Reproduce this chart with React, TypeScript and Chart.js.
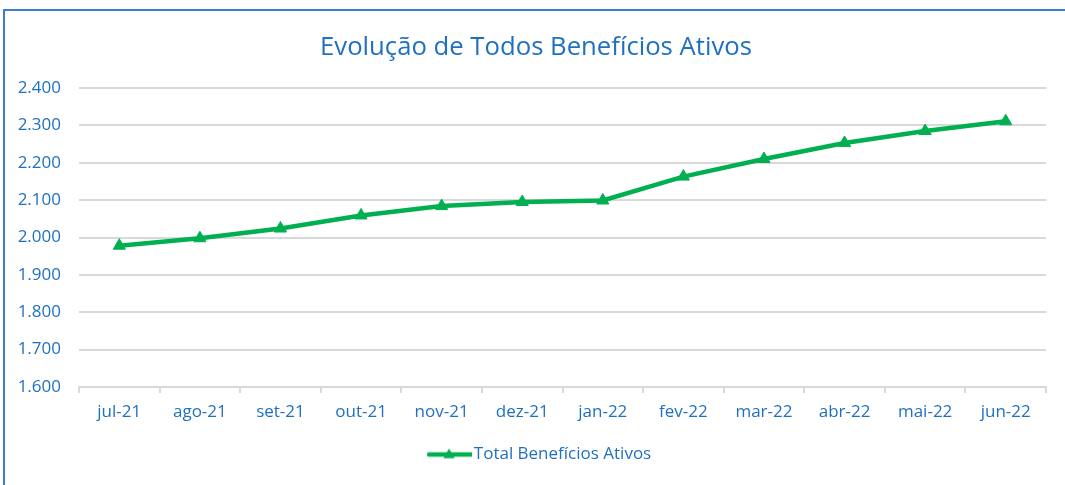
import React, { useEffect, useRef } from 'react';
import { Chart, registerables } from 'chart.js';

Chart.register(...registerables);

const categories = ['jul-21', 'ago-21', 'set-21', 'out-21', 'nov-21', 'dez-21', 'jan-22', 'fev-22', 'mar-22', 'abr-22', 'mai-22', 'jun-22'];
const totalBeneficiosAtivos = [1978, 1998, 2024, 2059, 2084, 2095, 2099, 2163, 2210, 2253, 2285, 2311];
const seriesName = 'Total Benefícios Ativos';
const chartTitle = 'Evolução de Todos Benefícios Ativos';
const yMin = 1600;
const yMax = 2400;
const yStep = 100;

const GREEN = '#00B050';
const BLUE = '#1F70C1';
const GRID = '#D9D9D9';
const FONT = "'Open Sans', sans-serif";

function makeLegendIcon(): HTMLCanvasElement {
  // image is centred on the legend box centre; visible line on the right part
  const c = document.createElement('canvas');
  c.width = 84;
  c.height = 16;
  const ctx = c.getContext('2d')!;
  ctx.strokeStyle = GREEN;
  ctx.lineWidth = 4.5;
  ctx.lineCap = 'round';
  ctx.beginPath();
  ctx.moveTo(41, 8);
  ctx.lineTo(83, 8);
  ctx.stroke();
  ctx.fillStyle = GREEN;
  const cx = 61, cy = 8.5, r = 6.5;
  ctx.beginPath();
  ctx.moveTo(cx, cy - r);
  ctx.lineTo(cx + r * 0.866, cy + r * 0.5);
  ctx.lineTo(cx - r * 0.866, cy + r * 0.5);
  ctx.closePath();
  ctx.fill();
  return c;
}

const titlePlugin = {
  id: 'offsetTitle',
  afterDraw(chart: any) {
    const ctx = chart.ctx;
    ctx.save();
    ctx.fillStyle = BLUE;
    ctx.font = `25.7px ${FONT}`;
    ctx.textAlign = 'center';
    ctx.textBaseline = 'alphabetic';
    ctx.fillText(chartTitle, 536, 54.5);
    ctx.restore();
  },
};

export default function App() {
  const ref = useRef<HTMLCanvasElement | null>(null);

  useEffect(() => {
    if (!ref.current) return;
    const icon = makeLegendIcon();
    const chart = new Chart(ref.current, {
      type: 'line',
      plugins: [titlePlugin],
      data: {
        labels: categories,
        datasets: [
          {
            label: seriesName,
            data: totalBeneficiosAtivos,
            borderColor: GREEN,
            backgroundColor: GREEN,
            borderWidth: 4.5,
            pointStyle: 'triangle',
            pointRadius: 7,
            pointBorderWidth: 1,
            pointBackgroundColor: GREEN,
            pointBorderColor: GREEN,
            tension: 0,
          },
        ],
      },
      options: {
        responsive: false,
        animation: false,
        layout: { padding: { left: 0, right: 19, top: 88, bottom: 12 } },
        plugins: {
          title: { display: false },
          legend: {
            display: true,
            position: 'bottom',
            labels: {
              usePointStyle: true,
              pointStyleWidth: 70.5,
              color: BLUE,
              font: { family: FONT, size: 17 },
              padding: 10,
              generateLabels: (ch: any) =>
                ch.data.datasets.map((ds: any, i: number) => ({
                  text: ds.label,
                  fillStyle: GREEN,
                  strokeStyle: GREEN,
                  lineWidth: 0,
                  pointStyle: icon,
                  hidden: false,
                  datasetIndex: i,
                  fontColor: BLUE,
                })),
            },
          },
          tooltip: { enabled: false },
        },
        scales: {
          x: {
            offset: true,
            afterFit: (scale: any) => {
              scale.height += 4.6;
            },
            grid: {
              display: true,
              offset: true,
              drawOnChartArea: false,
              drawTicks: true,
              tickLength: 6,
              color: GRID,
              lineWidth: 2,
            },
            border: { display: true, color: GRID, width: 2 },
            ticks: {
              color: BLUE,
              font: { family: FONT, size: 17 },
              padding: 9,
              maxRotation: 0,
            },
          },
          y: {
            min: yMin,
            max: yMax,
            afterFit: (scale: any) => {
              scale.width = 79;
            },
            grid: {
              color: GRID,
              lineWidth: 2,
              drawTicks: false,
            },
            border: { display: false },
            ticks: {
              stepSize: yStep,
              color: BLUE,
              font: { family: FONT, size: 17 },
              padding: 18,
              callback: (v: any) => (Number(v) / 1000).toFixed(3),
            },
          },
        },
      },
    });
    return () => chart.destroy();
  }, []);

  return (
    <div style={{ position: 'fixed', left: 0, top: 0, width: 1065, height: 485, overflow: 'hidden', background: '#fff' }}>
      <div
        style={{
          position: 'absolute',
          left: 3,
          top: 9,
          width: 1100,
          height: 520,
          border: '2px solid #3D7CC9',
          boxSizing: 'border-box',
        }}
      />
      <canvas ref={ref} width={1065} height={485} style={{ position: 'absolute', left: 0, top: 0, width: 1065, height: 485 }} />
    </div>
  );
}
